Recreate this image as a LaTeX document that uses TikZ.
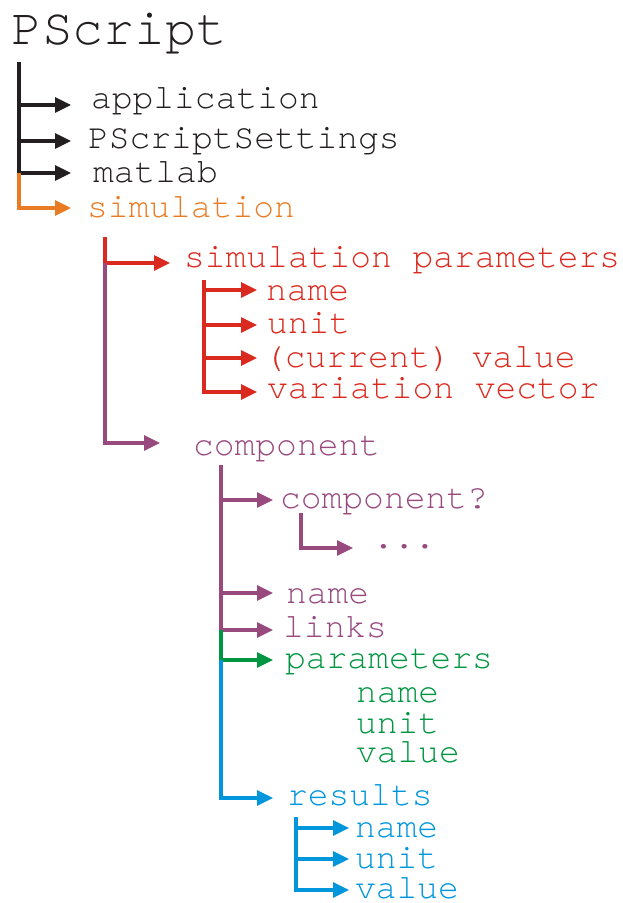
\documentclass[tikz,border=0pt]{standalone}
\usepackage{fontspec}
\IfFontExistsTF{TeX Gyre Cursor}{\newfontfamily\cour{TeX Gyre Cursor}}{\newfontfamily\cour{Liberation Mono}}
\usetikzlibrary{arrows.meta}
\definecolor{cblack}{HTML}{231F20}
\definecolor{corange}{HTML}{E87B24}
\definecolor{cred}{HTML}{DA2A1F}
\definecolor{cpurple}{HTML}{984A7F}
\definecolor{cgreen}{HTML}{009540}
\definecolor{cblue}{HTML}{0096DC}
\tikzset{
  lbl/.style={anchor=base west, inner sep=0pt, text height=0.6em, text depth=0.14em, font=\cour\fontsize{34.6}{40}\selectfont},
  ttl/.style={anchor=base west, inner sep=0pt, font=\cour\fontsize{51.5}{60}\selectfont},
  conn/.style={line width=3.2pt, line join=miter},
  arr/.style={conn, -{Triangle[length=16pt,width=15pt]}},
}
\begin{document}
\begin{tikzpicture}[x=1pt,y=-1pt]
\useasboundingbox (0,0) rectangle (622,903);
% texts
\node[ttl,text=cblack] (ps) at (11,44) {PScript};
\node[lbl,text=cblack] (app) at (91,108) {application};
\node[lbl,text=cblack] (pss) at (88,148) {PScriptSettings};
\node[lbl,text=cblack] (mat) at (93,182) {matlab};
\node[lbl,text=corange] (sim) at (87,217) {simulation};
\node[lbl,text=cred] (sp) at (184,267) {simulation parameters};
\node[lbl,text=cred] (spn) at (266,300) {name};
\node[lbl,text=cred] (spu) at (267,333) {unit};
\node[lbl,text=cred] (spv) at (264,367) {(current) value};
\node[lbl,text=cred] (spvv) at (267,398) {variation vector};
\node[lbl,text=cpurple] (comp) at (193,455) {component};
\node[lbl,text=cpurple] (compq) at (280,508) {component?};
\node[lbl,text=cpurple] (dots) at (373,548) {...};
\node[lbl,text=cpurple] (cn) at (286,603) {name};
\node[lbl,text=cpurple] (cl) at (283,637) {links};
\node[lbl,text=cgreen] (cp) at (285,668) {parameters};
\node[lbl,text=cgreen] (cpn) at (356,702) {name};
\node[lbl,text=cgreen] (cpu) at (356,733) {unit};
\node[lbl,text=cgreen] (cpv) at (356,762) {value};
\node[lbl,text=cblue] (res) at (287,805) {results};
\node[lbl,text=cblue] (rn) at (355,837) {name};
\node[lbl,text=cblue] (ru) at (355,868) {unit};
\node[lbl,text=cblue] (rv) at (355,898) {value};
% tree coordinates
\coordinate (t0) at (19,62);
\coordinate (b0a) at (19,105); \coordinate (e0a) at (71,105);
\coordinate (b0b) at (19,141); \coordinate (e0b) at (71,141);
\coordinate (b0c) at (19,173); \coordinate (e0c) at (71,173);
\coordinate (e0d) at (71,208);
\coordinate (t1) at (105,237);
\coordinate (b1a) at (105,263); \coordinate (e1a) at (170,263);
\coordinate (e1b) at (160,443);
\coordinate (t2) at (204,280);
\coordinate (b2a) at (204,290); \coordinate (e2a) at (257,290);
\coordinate (b2b) at (204,325); \coordinate (e2b) at (257,325);
\coordinate (b2c) at (204,358); \coordinate (e2c) at (257,358);
\coordinate (e2d) at (257,392);
\coordinate (t3) at (221,465);
\coordinate (b3a) at (221,500); \coordinate (e3a) at (273,500);
\coordinate (b3b) at (221,593); \coordinate (e3b) at (273,593);
\coordinate (b3c) at (221,630); \coordinate (e3c) at (273,630);
\coordinate (b3d) at (221,660); \coordinate (e3d) at (273,660);
\coordinate (e3e) at (273,798);
\coordinate (t4) at (301,513); \coordinate (e4) at (353,548);
\coordinate (t5) at (296,817);
\coordinate (b5a) at (296,828); \coordinate (e5a) at (349,828);
\coordinate (b5b) at (296,859); \coordinate (e5b) at (349,859);
\coordinate (e5c) at (349,890);
% level 0
\draw[conn,cblack] (t0) -- (b0c);
\draw[arr,cblack] (b0a) -- (e0a);
\draw[arr,cblack] (b0b) -- (e0b);
\draw[arr,cblack] (b0c) -- (e0c);
\draw[arr,corange] (b0c) |- (e0d);
% level 1
\draw[arr,cred] (t1) |- (e1a);
\draw[arr,cpurple] (b1a) |- (e1b);
% simulation parameters
\draw[arr,cred] (t2) |- (e2d);
\draw[arr,cred] (b2a) -- (e2a);
\draw[arr,cred] (b2b) -- (e2b);
\draw[arr,cred] (b2c) -- (e2c);
% component
\draw[conn,cpurple] (t3) -- (b3c);
\draw[arr,cpurple] (b3a) -- (e3a);
\draw[arr,cpurple] (b3b) -- (e3b);
\draw[arr,cpurple] (b3c) -- (e3c);
\draw[arr,cgreen] (b3c) |- (e3d);
\draw[arr,cblue] (b3d) |- (e3e);
\draw[arr,cpurple] (t4) |- (e4);
% results
\draw[arr,cblue] (t5) |- (e5c);
\draw[arr,cblue] (b5a) -- (e5a);
\draw[arr,cblue] (b5b) -- (e5b);
\end{tikzpicture}
\end{document}
